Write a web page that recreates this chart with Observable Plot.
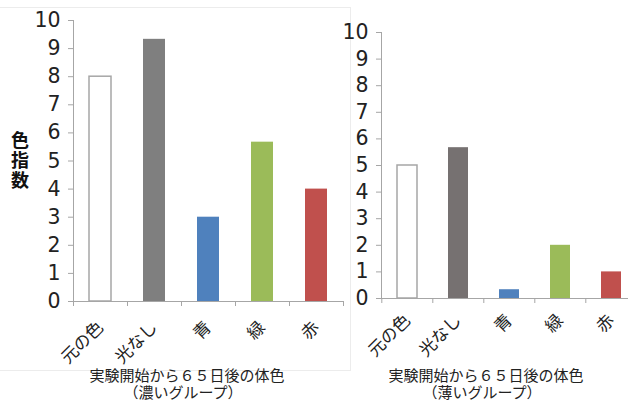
<!DOCTYPE html>
<html>
<head>
<meta charset="utf-8">
<script src="https://cdn.jsdelivr.net/npm/d3@7"></script>
<script src="https://cdn.jsdelivr.net/npm/@observablehq/plot@0.6"></script>
<style>
  html, body { margin: 0; padding: 0; background: #fff; }
  #wrap { position: relative; width: 628px; height: 400px; overflow: hidden; font-family: "Noto Sans CJK JP", sans-serif; }
  .panel { position: absolute; top: 0; }
  .panel svg { overflow: visible; }
  .box { position: absolute; left: -1px; top: 7px; width: 350px; height: 362px; border: 1px solid #ececec; }
  .ylab { position: absolute; left: 11px; top: 131px; writing-mode: vertical-rl; text-orientation: upright; font-weight: bold; font-size: 18px; line-height: 18px; letter-spacing: 2px; color: #111; }
  .xtitle { position: absolute; text-align: center; font-size: 15px; line-height: 16px; height: 16px; color: #222; white-space: nowrap; transform: translateX(-50%); }
</style>
</head>
<body>
<div id="wrap">
  <div class="box"></div>
  <div class="panel" id="left" style="left:0px"></div>
  <div class="panel" id="right" style="left:330px"></div>
  <div class="ylab">色指数</div>
  <div class="xtitle" style="left:187px; top:367px">実験開始から６５日後の体色</div>
  <div class="xtitle" style="left:183px; top:384px">（濃いグループ）</div>
  <div class="xtitle" style="left:486px; top:367px">実験開始から６５日後の体色</div>
  <div class="xtitle" style="left:482px; top:384px">（薄いグループ）</div>
</div>
<script>
const categories = ["元の色", "光なし", "青", "緑", "赤"];
const darkGroup = [8, 9.33, 3, 5.67, 4];
const lightGroup = [5, 5.67, 0.33, 2, 1];
const yTicks = [0, 1, 2, 3, 4, 5, 6, 7, 8, 9, 10];
const leftFills = ["#ffffff", "#7f7f7f", "#4f81bd", "#9bbb59", "#c0504d"];
const rightFills = ["#ffffff", "#767171", "#4f81bd", "#9bbb59", "#c0504d"];
const edges = ["#a6a6a6", "none", "none", "none", "none"];

const axisColor = "#a6a6a6";
const fontFamily = "'Noto Sans CJK JP', sans-serif";

function panel({values, fills, width, height, marginLeft, marginTop, marginBottom, marginRight, xRange, band, labelPad}) {
  const data = categories.map((c, i) => ({cat: c, v: values[i], fill: fills[i], edge: edges[i]}));
  return Plot.plot({
    width, height, marginLeft, marginTop, marginBottom, marginRight,
    style: {fontFamily, background: "transparent", color: "#222"},
    x: {domain: categories, range: xRange, paddingInner: 0.6, paddingOuter: 0.3, label: null},
    y: {domain: [0, 10], label: null},
    color: {type: "identity"},
    marks: [
      Plot.barY(data, {x: "cat", y: "v", fill: "fill", stroke: "edge", strokeWidth: 1.5}),
      Plot.frame({anchor: "left", stroke: axisColor}),
      Plot.ruleY([0], {stroke: axisColor}),
      Plot.ruleX(categories, {x: d => d, y1: 0, y2: 0, insetBottom: -5, dx: -band / 2, stroke: axisColor}),
      Plot.ruleX(categories.slice(-1), {x: d => d, y1: 0, y2: 0, insetBottom: -5, dx: band / 2, stroke: axisColor}),
      Plot.axisY({ticks: yTicks, tickSize: 5, tickPadding: 8, fontSize: 20.5, fontFamily: "'DejaVu Sans', sans-serif", stroke: axisColor, tickFormat: d => String(d), label: null, color: "#222"}),
      Plot.axisX({tickSize: 0, tickPadding: labelPad, tickRotate: -45, fontSize: 17, label: null})
    ]
  });
}

document.getElementById("left").appendChild(panel({
  values: darkGroup, fills: leftFills, width: 350, height: 370,
  marginLeft: 73, marginTop: 20, marginBottom: 69, marginRight: 7,
  xRange: [73, 343], band: 54, labelPad: 23
}));

document.getElementById("right").appendChild(panel({
  values: lightGroup, fills: rightFills, width: 298, height: 370,
  marginLeft: 51, marginTop: 32, marginBottom: 72, marginRight: 0,
  xRange: [51, 308], band: 51.4, labelPad: 19
}));
</script>
</body>
</html>
